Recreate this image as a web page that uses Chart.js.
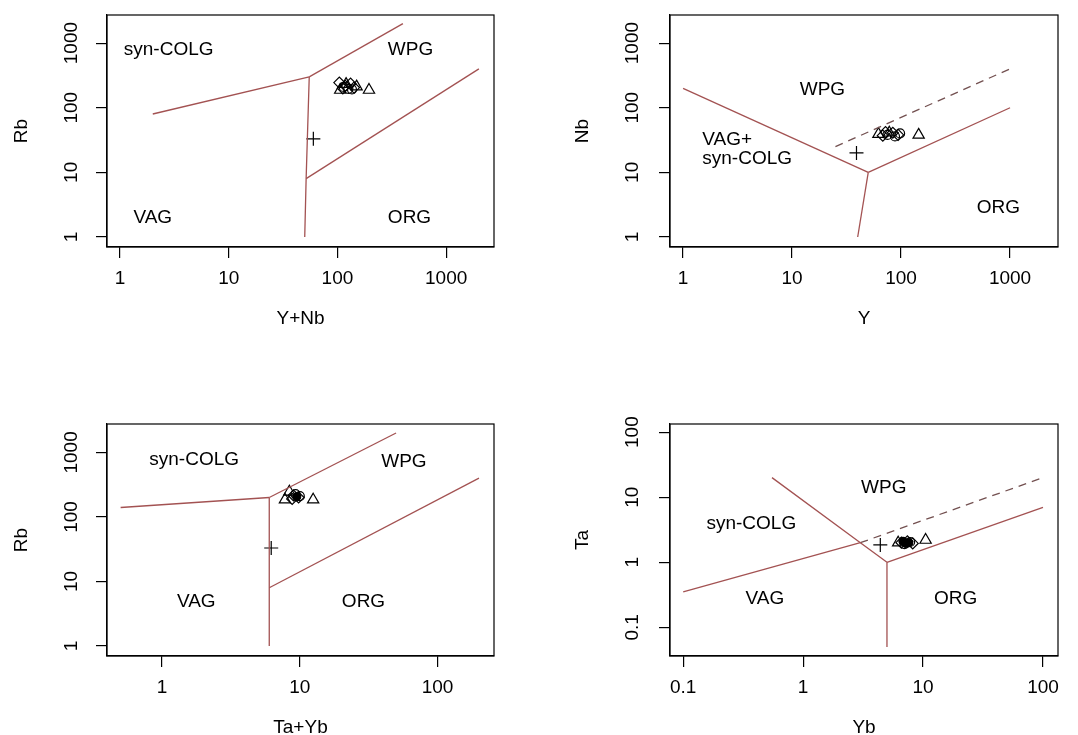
<!DOCTYPE html>
<html>
<head>
<meta charset="utf-8">
<script src="https://cdn.jsdelivr.net/npm/chart.js@4.4.1/dist/chart.umd.min.js"></script>
<style>
  html, body { margin: 0; padding: 0; background: #fff; overflow: hidden; }
  body { width: 1078px; height: 735px; position: relative; }
  .panel { position: absolute; width: 539px; height: 367px; }
</style>
</head>
<body>
<div class="panel" style="left:0;top:0"><canvas id="c1" width="539" height="367"></canvas></div>
<div class="panel" style="left:539px;top:0"><canvas id="c2" width="539" height="367"></canvas></div>
<div class="panel" style="left:0;top:409px"><canvas id="c3" width="539" height="367"></canvas></div>
<div class="panel" style="left:539px;top:409px"><canvas id="c4" width="539" height="367"></canvas></div>
<script>
// tick labels
const ticksDec = [1, 10, 100, 1000];
const ticksTaYb = [1, 10, 100];
const ticksYb = [0.1, 1, 10, 100];

// Rb vs Y+Nb
const ynbCross = [[60, 33]];
const ynbTri = [[195, 188], [150, 212], [120, 232], [106, 188]];
const ynbDia = [[104, 245], [118, 218], [132, 236], [112, 200], [142, 205]];
const ynbCirc = [[126, 196], [114, 210], [136, 192]];
const ynbLines = [
  [[2, 80], [55, 300]],
  [[55, 300], [400, 2000]],
  [[55, 300], [51.5, 8], [50, 1]],
  [[51.5, 8], [2000, 400]]
];

// Nb vs Y
const yCross = [[39, 20]];
const yTri = [[145, 38], [62, 39], [78, 41]];
const yDia = [[68, 37], [84, 41], [94, 38], [72, 42]];
const yCirc = [[88, 36], [98, 40], [75, 38]];
const yLines = [
  [[1, 200], [50, 10]],
  [[50, 10], [1000, 100]],
  [[50, 10], [40, 1]]
];
const yDashed = [[[25, 25], [1000, 400]]];

// Rb vs Ta+Yb
const tybCross = [[6.2, 33]];
const tybTri = [[7.8, 185], [12.5, 185], [8.4, 245]];
const tybDia = [[9, 215], [9.8, 200], [8.8, 190]];
const tybCirc = [[10, 210], [9.3, 225]];
const tybDot = [[9.5, 205]];
const tybLines = [
  [[0.5, 140], [6, 200]],
  [[6, 200], [50, 2000]],
  [[6, 200], [6, 1]],
  [[6, 8], [200, 400]]
];

// Ta vs Yb
const ybCross = [[4.4, 1.85]];
const ybTri = [[10.5, 2.2], [6.2, 2.0]];
const ybDia = [[6.6, 2.0], [7.4, 2.1], [8.2, 1.95]];
const ybCirc = [[7, 1.9], [7.8, 2.05]];
const ybDot = [[6.8, 2.1], [7.2, 1.95], [7.6, 2.0]];
const ybLines = [
  [[0.1, 0.35], [3, 2]],
  [[0.55, 20], [3, 2], [5, 1]],
  [[5, 1], [5, 0.05]],
  [[5, 1], [100, 7]]
];
const ybDashed = [[[3, 2], [100, 20]]];

const lineCol = '#a35252';
const dashCol = '#735050';
const F = {family: '"Liberation Sans", Arial, sans-serif', size: 19};

// box round the plot + field names
const frame = {
  id: 'frame',
  afterDatasetsDraw(chart, args, opts) {
    const {ctx, chartArea: a, scales: {x, y}} = chart;
    ctx.save();
    ctx.strokeStyle = '#000';
    ctx.lineWidth = 1.2;
    ctx.strokeRect(a.left, a.top, a.width, a.height);
    ctx.fillStyle = '#000';
    ctx.font = '19px "Liberation Sans", Arial, sans-serif';
    ctx.textBaseline = 'middle';
    for (const f of opts.fields) {
      ctx.textAlign = f.align || 'center';
      const lines = f.text.split('\n');
      lines.forEach((ln, i) => {
        ctx.fillText(ln, x.getPixelForValue(f.x), y.getPixelForValue(f.y) + (i - (lines.length - 1) / 2) * 19);
      });
    }
    ctx.restore();
  }
};

const pts = a => a.map(p => ({x: p[0], y: p[1]}));

function panel(id, o) {
  const ds = [];
  o.lines.forEach(l => ds.push({data: pts(l), showLine: true, pointRadius: 0, borderColor: lineCol, borderWidth: 1.3}));
  (o.dashed || []).forEach(l => ds.push({data: pts(l), showLine: true, pointRadius: 0, borderColor: dashCol, borderWidth: 1.3, borderDash: [8, 6]}));
  const mk = (data, style, r, fill) => ds.push({data: pts(data), pointStyle: style, pointRadius: r,
    pointBorderColor: '#000', pointBackgroundColor: fill ? '#000' : 'rgba(0,0,0,0)', pointBorderWidth: 1.2});
  mk(o.tri, 'triangle', 6.5);
  mk(o.dia, 'rectRot', 5.5);
  mk(o.circ, 'circle', 4.5);
  if (o.dot) mk(o.dot, 'circle', 4, true);
  mk(o.cross, 'cross', 7);

  new Chart(document.getElementById(id), {
    type: 'scatter',
    data: {datasets: ds},
    plugins: [frame],
    options: {
      responsive: false,
      animation: false,
      events: [],
      layout: {padding: {left: 0, top: 15, right: o.right, bottom: 20}},
      plugins: {legend: {display: false}, tooltip: {enabled: false}, frame: {fields: o.fields}},
      scales: {
        x: {
          type: 'logarithmic',
          min: Math.pow(10, o.xr[0]), max: Math.pow(10, o.xr[1]),
          afterBuildTicks: s => { s.ticks = o.xt.map(v => ({value: v})); },
          afterFit: s => { s.height = 100; s.paddingLeft = 0; s.paddingRight = 0; },
          grid: {drawOnChartArea: false, drawTicks: true, tickLength: 11, color: '#000', lineWidth: 1.2},
          border: {display: true, color: '#000', width: 1.2},
          ticks: {font: F, color: '#000', padding: 9.5, autoSkip: false, maxRotation: 0, callback: v => String(v)},
          title: {display: true, text: o.xTitle, font: F, color: '#000', padding: {top: 0, bottom: 17}}
        },
        y: {
          type: 'logarithmic',
          min: Math.pow(10, o.yr[0]), max: Math.pow(10, o.yr[1]),
          afterBuildTicks: s => { s.ticks = o.yt.map(v => ({value: v})); },
          afterFit: s => { s.width = o.left; s.paddingTop = 0; s.paddingBottom = 0; },
          grid: {drawOnChartArea: false, drawTicks: true, tickLength: 11, color: '#000', lineWidth: 1.2},
          border: {display: true, color: '#000', width: 1.2},
          ticks: {font: F, color: '#000', minRotation: 90, maxRotation: 90, crossAlign: 'center', padding: o.yPad, autoSkip: false, callback: v => String(v)},
          title: {display: true, text: o.yTitle, font: F, color: '#000', padding: {top: o.yTitlePad, bottom: 0}}
        }
      }
    }
  });
}

panel('c1', {
  left: 107, right: 45, xr: [-0.12, 3.44], yr: [-0.135, 3.435], xt: ticksDec, yt: ticksDec,
  xTitle: 'Y+Nb', yTitle: 'Rb', yPad: 3, yTitlePad: 10,
  lines: ynbLines, tri: ynbTri, dia: ynbDia, circ: ynbCirc, cross: ynbCross,
  fields: [
    {text: 'syn-COLG', x: 2.8, y: 800}, {text: 'WPG', x: 470, y: 780},
    {text: 'VAG', x: 2, y: 2}, {text: 'ORG', x: 460, y: 2}
  ]
});

panel('c2', {
  left: 131, right: 20, xr: [-0.12, 3.44], yr: [-0.135, 3.435], xt: ticksDec, yt: ticksDec,
  xTitle: 'Y', yTitle: 'Nb', yPad: 5, yTitlePad: 32,
  lines: yLines, dashed: yDashed, tri: yTri, dia: yDia, circ: yCirc, cross: yCross,
  fields: [
    {text: 'WPG', x: 19, y: 190}, {text: 'VAG+\nsyn-COLG', x: 1.5, y: 23, align: 'left'},
    {text: 'ORG', x: 780, y: 2.8}
  ]
});

panel('c3', {
  left: 107, right: 45, xr: [-0.40, 2.41], yr: [-0.135, 3.44], xt: ticksTaYb, yt: ticksDec,
  xTitle: 'Ta+Yb', yTitle: 'Rb', yPad: 3, yTitlePad: 10,
  lines: tybLines, tri: tybTri, dia: tybDia, circ: tybCirc, dot: tybDot, cross: tybCross,
  fields: [
    {text: 'syn-COLG', x: 1.71, y: 780}, {text: 'WPG', x: 57, y: 725},
    {text: 'VAG', x: 1.77, y: 4.9}, {text: 'ORG', x: 29, y: 4.9}
  ]
});

panel('c4', {
  left: 131, right: 20, xr: [-1.11, 2.125], yr: [-1.44, 2.125], xt: ticksYb, yt: ticksYb,
  xTitle: 'Yb', yTitle: 'Ta', yPad: 10, yTitlePad: 32,
  lines: ybLines, dashed: ybDashed, tri: ybTri, dia: ybDia, circ: ybCirc, dot: ybDot, cross: ybCross,
  fields: [
    {text: 'WPG', x: 4.7, y: 14}, {text: 'syn-COLG', x: 0.37, y: 3.9},
    {text: 'VAG', x: 0.48, y: 0.28}, {text: 'ORG', x: 18.7, y: 0.28}
  ]
});
</script>
</body>
</html>
